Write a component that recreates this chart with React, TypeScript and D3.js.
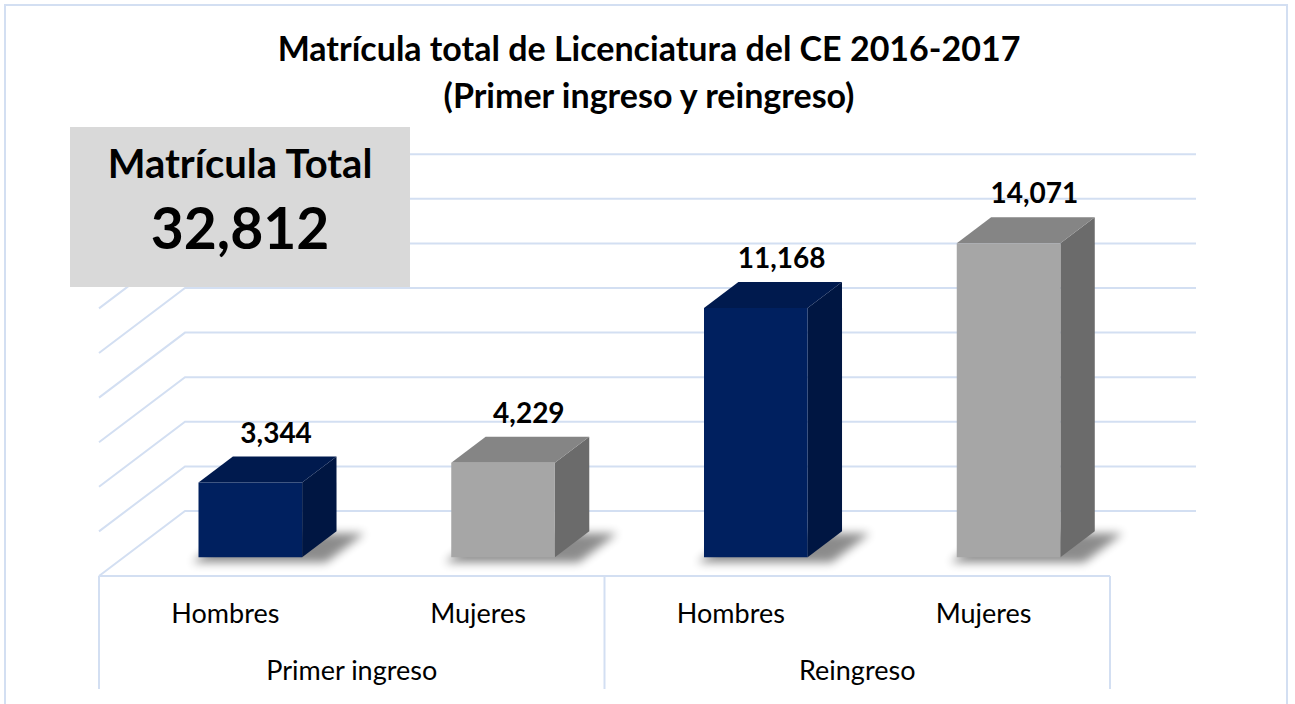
import React, { useEffect, useRef } from 'react';
import * as d3 from 'd3';

const groups = ['Primer ingreso', 'Reingreso'];
const genders = ['Hombres', 'Mujeres', 'Hombres', 'Mujeres'];
const groupOf = [0, 0, 1, 1];
const values = [3344, 4229, 11168, 14071];
const totalLabel = 'Matrícula Total';
const totalValue = 32812;
const titleLines = ['Matrícula total de Licenciatura del CE 2016-2017', '(Primer ingreso y reingreso)'];

const W = 1295, H = 704;
const FONT = 'Lato, "Open Sans", sans-serif';
const GRID = '#d3dff2';

// colores por genero: frente, techo, lado
const palette: Record<string, [string, string, string]> = {
  Hombres: ['#00205f', '#001a4e', '#001642'],
  Mujeres: ['#a6a6a6', '#858585', '#6b6b6b'],
};

const App: React.FC = () => {
  const ref = useRef<SVGSVGElement>(null);

  useEffect(() => {
    if (!ref.current) return;
    const svg = d3.select(ref.current);
    svg.selectAll('*').remove();

    // pared del fondo y proyeccion oblicua
    const back = { left: 185, right: 1196, floor: 511 };
    const depth = { dx: -86, dy: 65 };
    const t0 = 0.31, t1 = 0.71;

    const y = d3.scaleLinear().domain([0, 16000]).range([back.floor, back.floor - 8 * 44.6]);
    const x = d3.scaleBand<number>()
      .domain(values.map((_, i) => i))
      .range([back.left, back.right])
      .paddingInner(0.59)
      .paddingOuter(0.295);

    const proj = (px: number, v: number, t: number): [number, number] =>
      [px + depth.dx * t, y(v) + depth.dy * t];

    const defs = svg.append('defs');
    defs.append('filter').attr('id', 'shadow')
      .attr('x', '-50%').attr('y', '-50%').attr('width', '200%').attr('height', '200%')
      .append('feGaussianBlur').attr('stdDeviation', 5);

    // borde exterior
    svg.append('rect')
      .attr('x', 5).attr('y', 5).attr('width', 1282).attr('height', 720)
      .attr('fill', '#fff').attr('stroke', GRID).attr('stroke-width', 2);

    const ticks = y.ticks(8);
    const grid = svg.append('g').attr('stroke', GRID).attr('stroke-width', 2).attr('fill', 'none');
    ticks.forEach(v => {
      const a = proj(back.left, v, 0), b = proj(back.right, v, 0), c = proj(back.left, v, 1);
      grid.append('path').attr('d', d3.line()([c, a, b]));
    });
    // borde frontal del piso y caja del eje
    const fl = proj(back.left, 0, 1), fr = proj(back.right, 0, 1);
    const axisBottom = 689;
    grid.append('line').attr('x1', fl[0]).attr('x2', fr[0]).attr('y1', fl[1]).attr('y2', fl[1]);
    const frontX = d3.scaleLinear().domain([0, values.length]).range([fl[0], fr[0]]);
    [0, 2, 4].forEach(i => {
      grid.append('line')
        .attr('x1', frontX(i)).attr('x2', frontX(i))
        .attr('y1', fl[1]).attr('y2', axisBottom);
    });

    // barras 3D
    const bars = svg.append('g');
    values.forEach((v, i) => {
      const x0 = x(i)!, x1 = x0 + x.bandwidth();
      const col = palette[genders[i]];
      const pad = 8;
      const sh = [
        proj(x0 - pad, 0, t1 + 0.05), proj(x1 + 22, 0, t1 + 0.05),
        proj(x1 + 22, 0, t0), proj(x0 - pad, 0, t0),
      ].map(p => [p[0] + 6, p[1] + 2] as [number, number]);
      bars.append('path').attr('d', d3.line()(sh) + 'Z')
        .attr('fill', '#000').attr('opacity', 0.45).attr('filter', 'url(#shadow)');

      const front = [proj(x0, v, t1), proj(x1, v, t1), proj(x1, 0, t1), proj(x0, 0, t1)];
      const top = [proj(x0, v, t1), proj(x1, v, t1), proj(x1, v, t0), proj(x0, v, t0)];
      const side = [proj(x1, v, t1), proj(x1, v, t0), proj(x1, 0, t0), proj(x1, 0, t1)];
      bars.append('path').attr('d', d3.line()(side) + 'Z').attr('fill', col[2]);
      bars.append('path').attr('d', d3.line()(top) + 'Z').attr('fill', col[1]);
      bars.append('path').attr('d', d3.line()(front) + 'Z').attr('fill', col[0]);

      const lp = proj((x0 + x1) / 2, v, 0.41);
      const tb = proj(x0, v, t0);
      svg.append('text')
        .attr('x', lp[0]).attr('y', tb[1] - 14)
        .attr('text-anchor', 'middle')
        .attr('font-family', FONT).attr('font-weight', 700).attr('font-size', 28)
        .attr('fill', '#000')
        .text(d3.format(',')(v));
    });

    // etiquetas del eje
    genders.forEach((g, i) => {
      svg.append('text')
        .attr('x', frontX(i + 0.5)).attr('y', 623)
        .attr('text-anchor', 'middle')
        .attr('font-family', FONT).attr('font-size', 27).attr('fill', '#000')
        .text(g);
    });
    groups.forEach((g, gi) => {
      const idx = groupOf.map((d, i) => (d === gi ? i : -1)).filter(i => i >= 0);
      const cx = (frontX(idx[0]) + frontX(idx[idx.length - 1] + 1)) / 2;
      svg.append('text')
        .attr('x', cx).attr('y', 680)
        .attr('text-anchor', 'middle')
        .attr('font-family', FONT).attr('font-size', 27).attr('fill', '#000')
        .text(g);
    });

    // titulo
    titleLines.forEach((t, i) => {
      svg.append('text')
        .attr('x', 649).attr('y', 61 + i * 47)
        .attr('text-anchor', 'middle')
        .attr('font-family', FONT).attr('font-weight', 700).attr('font-size', 34)
        .attr('fill', '#000')
        .text(t);
    });

    // recuadro de matricula total
    const box = svg.append('g');
    box.append('rect').attr('x', 70).attr('y', 127).attr('width', 340).attr('height', 160).attr('fill', '#d9d9d9');
    box.append('text')
      .attr('x', 240).attr('y', 178).attr('text-anchor', 'middle')
      .attr('font-family', FONT).attr('font-weight', 700).attr('font-size', 40)
      .text(totalLabel);
    box.append('text')
      .attr('x', 240).attr('y', 249).attr('text-anchor', 'middle')
      .attr('font-family', FONT).attr('font-weight', 700).attr('font-size', 57)
      .text(d3.format(',')(totalValue));
  }, []);

  return (
    <svg ref={ref} width={W} height={H}
      style={{ position: 'fixed', left: 0, top: 0, display: 'block', background: '#fff' }} />
  );
};

export default App;
